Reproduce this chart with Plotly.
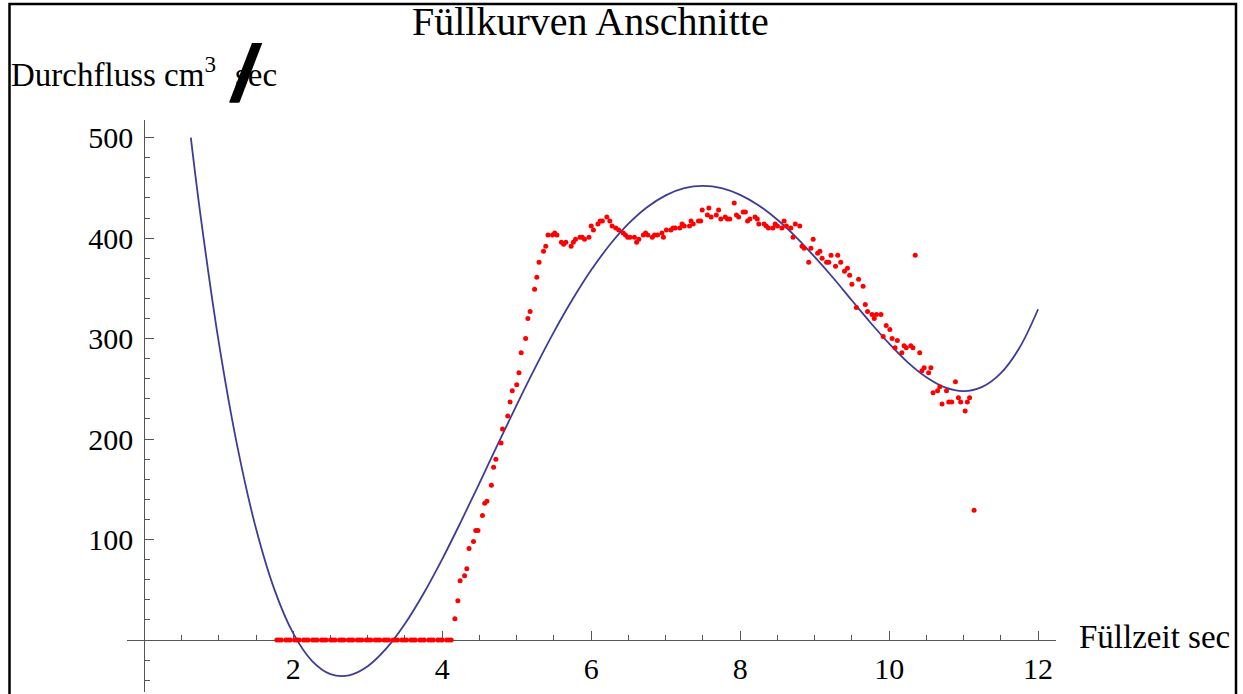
import numpy as np
import plotly.graph_objects as go

# ---------------- data ----------------
# measured flow samples: Füllzeit [sec] / Durchfluss [cm^3/sec]
time_s = [
    1.78, 1.81, 1.84, 1.90, 1.93, 1.96, 2.02, 2.05, 2.08, 2.14, 2.17, 2.20,
    2.26, 2.29, 2.32, 2.38, 2.41, 2.44, 2.50, 2.53, 2.56, 2.62, 2.65, 2.68,
    2.74, 2.77, 2.80, 2.86, 2.89, 2.92, 2.98, 3.01, 3.04, 3.10, 3.13, 3.16,
    3.22, 3.25, 3.28, 3.34, 3.37, 3.40, 3.46, 3.49, 3.52, 3.58, 3.61, 3.64,
    3.70, 3.73, 3.76, 3.82, 3.85, 3.88, 3.94, 3.97, 4.00, 4.06, 4.09, 4.12,
    4.17, 4.21, 4.24, 4.30, 4.33, 4.36, 4.42, 4.45, 4.48, 4.54, 4.57, 4.60,
    4.66, 4.69, 4.72, 4.79, 4.81, 4.88, 4.91, 4.94, 5.00, 5.03, 5.06, 5.12,
    5.15, 5.18, 5.24, 5.27, 5.30, 5.36, 5.39, 5.42, 5.48, 5.51, 5.54, 5.60,
    5.63, 5.66, 5.73, 5.76, 5.79, 5.85, 5.88, 5.91, 5.97, 6.00, 6.03, 6.09,
    6.12, 6.15, 6.21, 6.25, 6.28, 6.33, 6.37, 6.43, 6.46, 6.49, 6.52, 6.58,
    6.61, 6.64, 6.70, 6.73, 6.76, 6.82, 6.85, 6.89, 6.95, 6.97, 7.01, 7.07,
    7.10, 7.13, 7.19, 7.22, 7.25, 7.32, 7.34, 7.37, 7.44, 7.47, 7.49, 7.56,
    7.58, 7.61, 7.68, 7.71, 7.74, 7.80, 7.83, 7.86, 7.92, 7.95, 7.98, 8.04,
    8.07, 8.10, 8.13, 8.20, 8.23, 8.25, 8.32, 8.35, 8.38, 8.44, 8.47, 8.50,
    8.56, 8.59, 8.62, 8.68, 8.71, 8.74, 8.80, 8.83, 8.86, 8.92, 8.95, 8.98,
    9.04, 9.07, 9.10, 9.16, 9.19, 9.22, 9.28, 9.31, 9.35, 9.40, 9.44, 9.47,
    9.50, 9.56, 9.59, 9.65, 9.68, 9.71, 9.77, 9.80, 9.83, 9.89, 9.92, 9.96,
    10.01, 10.04, 10.08, 10.11, 10.17, 10.20, 10.23, 10.29, 10.32, 10.35, 10.41, 10.44,
    10.47, 10.53, 10.56, 10.59, 10.65, 10.68, 10.71, 10.77, 10.80, 10.84, 10.89, 10.93,
    10.96, 11.02, 11.05, 11.08, 11.14,
]
flow = [
    0, 0, 0, 0, 0, 0, 0, 0, 0, 0, 0, 0,
    0, 0, 0, 0, 0, 0, 0, 0, 0, 0, 0, 0,
    0, 0, 0, 0, 0, 0, 0, 0, 0, 0, 0, 0,
    0, 0, 0, 0, 0, 0, 0, 0, 0, 0, 0, 0,
    0, 0, 0, 0, 0, 0, 0, 0, 0, 0, 0, 0,
    21, 39, 59, 64, 71, 91, 98, 109, 109, 124, 136, 138,
    154, 172, 180, 196, 210, 223, 237, 248, 254, 266, 286, 300,
    320, 327, 349, 361, 376, 387, 392, 403, 403, 405, 403, 396,
    394, 396, 392, 396, 399, 401, 401, 399, 401, 412, 408, 414,
    417, 417, 421, 417, 412, 410, 408, 405, 403, 401, 401, 401,
    396, 399, 403, 405, 403, 401, 403, 403, 405, 401, 408, 408,
    410, 410, 410, 414, 412, 412, 417, 414, 417, 417, 428, 423,
    430, 421, 423, 428, 419, 421, 419, 419, 435, 423, 421, 426,
    426, 417, 419, 421, 419, 414, 414, 412, 410, 410, 414, 412,
    410, 417, 412, 410, 401, 414, 412, 392, 390, 376, 390, 399,
    385, 387, 380, 376, 376, 383, 372, 383, 376, 367, 370, 363,
    354, 331, 359, 352, 334, 327, 324, 320, 324, 324, 302, 313,
    309, 300, 291, 298, 286, 293, 291, 293, 291, 383, 286, 268,
    271, 266, 271, 246, 248, 252, 235, 248, 237, 237, 257, 241,
    237, 228, 237, 241, 129,
]

# fitted curve
curve_x = [
    0.625, 0.75, 1.0, 1.25, 1.5, 1.75, 2.0, 2.25, 2.5, 2.75, 3.0, 3.25,
    3.5, 3.75, 4.0, 4.25, 4.5, 4.75, 5.0, 5.25, 5.5, 5.75, 6.0, 6.25,
    6.5, 6.75, 7.0, 7.25, 7.5, 7.75, 8.0, 8.25, 8.5, 8.75, 9.0, 9.25,
    9.5, 9.75, 10.0, 10.25, 10.5, 10.75, 11.0, 11.25, 11.5, 11.75, 12.0,
]
curve_y = [
    500, 425.5, 296.4, 192.4, 110.9, 49.6, 6.5, -20.7, -34.0, -35.2, -26.1, -8.4,
    16.2, 46.3, 80.5, 117.6, 156.2, 195.4, 234.1, 271.4, 306.7, 339.1, 368.2, 393.4,
    414.4, 430.8, 442.6, 449.7, 452.0, 449.8, 443.1, 432.5, 418.3, 401.1, 381.3, 360.3,
    337.9, 315.8, 295.0, 276.4, 261.5, 251.4, 247.7, 252.0, 265.7, 290.9, 329.2,
]

x_tick_vals = [2, 4, 6, 8, 10, 12]
x_tick_text = ["2", "4", "6", "8", "10", "12"]
y_tick_vals = [100, 200, 300, 400, 500]
y_tick_text = ["100", "200", "300", "400", "500"]

title_text = "Füllkurven Anschnitte"
y_label_text = "Durchfluss cm<sup>3</sup>"
y_label_unit = "sec"
x_label_text = "Füllzeit sec"

# ---------------- layout geometry ----------------
W, H = 1243, 694
PL, PR, PT, PB = 127, 1056, 120, 692       # plot area in pixels
X_RANGE = [-0.232, 12.24]
Y_RANGE = [-51.8, 517.6]


def fx(px):
    return (px - PL) / (PR - PL)


def fy(py):
    return (PB - py) / (PB - PT)


SERIF = "Liberation Serif, Times New Roman, serif"
AXIS_COLOR = "#555555"

fig = go.Figure()
fig.add_trace(go.Scatter(
    x=curve_x, y=curve_y, mode="lines",
    line=dict(color="#3d3d99", width=1.8, shape="spline", smoothing=1.0),
    hoverinfo="skip", showlegend=False,
))
fig.add_trace(go.Scatter(
    x=time_s, y=flow, mode="markers",
    marker=dict(color="#ff0000", size=5, line=dict(width=0)),
    hoverinfo="skip", showlegend=False,
))

x_minor = [v for v in np.arange(0.5, 12.01, 0.5) if abs(v % 2) > 1e-9]
y_minor = [v for v in np.arange(-40, 501, 20) if v % 100 != 0]

fig.update_layout(
    width=W, height=H,
    margin=dict(l=PL, r=W - PR, t=PT, b=H - PB, pad=0),
    paper_bgcolor="white", plot_bgcolor="white",
    showlegend=False,
    hovermode=False,
    xaxis=dict(
        range=X_RANGE, anchor="free",
        position=(0 - Y_RANGE[0]) / (Y_RANGE[1] - Y_RANGE[0]),
        showline=True, linecolor=AXIS_COLOR, linewidth=1,
        ticks="inside", ticklen=9, tickwidth=1, tickcolor=AXIS_COLOR,
        tickmode="array", tickvals=x_tick_vals, ticktext=x_tick_text,
        tickfont=dict(family=SERIF, size=30, color="black"),
        ticklabelstandoff=2,
        minor=dict(tickmode="array", tickvals=x_minor, ticks="inside",
                   ticklen=5, tickwidth=1, tickcolor=AXIS_COLOR, showgrid=False),
        showgrid=False, zeroline=False, automargin=False, layer="below traces",
    ),
    yaxis=dict(
        range=Y_RANGE, anchor="free",
        position=(0 - X_RANGE[0]) / (X_RANGE[1] - X_RANGE[0]),
        showline=True, linecolor=AXIS_COLOR, linewidth=1,
        ticks="inside", ticklen=9, tickwidth=1, tickcolor=AXIS_COLOR,
        tickmode="array", tickvals=y_tick_vals, ticktext=y_tick_text,
        tickfont=dict(family=SERIF, size=30, color="black"),
        ticklabelstandoff=5,
        minor=dict(tickmode="array", tickvals=y_minor, ticks="inside",
                   ticklen=5, tickwidth=1, tickcolor=AXIS_COLOR, showgrid=False),
        showgrid=False, zeroline=False, automargin=False, layer="below traces",
    ),
    shapes=[dict(
        type="rect", xref="paper", yref="paper",
        x0=fx(9.5), x1=fx(1236), y0=fy(698), y1=fy(4),
        line=dict(color="black", width=2.5), fillcolor="rgba(0,0,0,0)",
        layer="above",
    )],
    annotations=[
        dict(text=title_text, xref="paper", yref="paper",
             x=fx(590.5), y=fy(45), xanchor="center", yanchor="bottom",
             showarrow=False, borderpad=0,
             font=dict(family=SERIF, size=40, color="black")),
        dict(text=y_label_text, xref="paper", yref="paper",
             x=fx(10), y=fy(94), xanchor="left", yanchor="bottom",
             showarrow=False, borderpad=0,
             font=dict(family=SERIF, size=33, color="black")),
        dict(text=y_label_unit, xref="paper", yref="paper",
             x=fx(234), y=fy(94), xanchor="left", yanchor="bottom",
             showarrow=False, borderpad=0,
             font=dict(family=SERIF, size=33, color="black")),
        dict(text="/", xref="paper", yref="paper",
             x=fx(245), y=fy(73), xanchor="center", yanchor="middle",
             showarrow=False, borderpad=0,
             font=dict(family="Liberation Sans, Arial, sans-serif", size=80,
                       color="black", weight="bold", style="italic",
                       shadow="1px 0 0 black")),
        dict(text=x_label_text, xref="paper", yref="paper",
             x=fx(1078), y=fy(656), xanchor="left", yanchor="bottom",
             showarrow=False, borderpad=0,
             font=dict(family=SERIF, size=33, color="black")),
    ],
)

fig.write_html("out.html", config={"displayModeBar": False})
